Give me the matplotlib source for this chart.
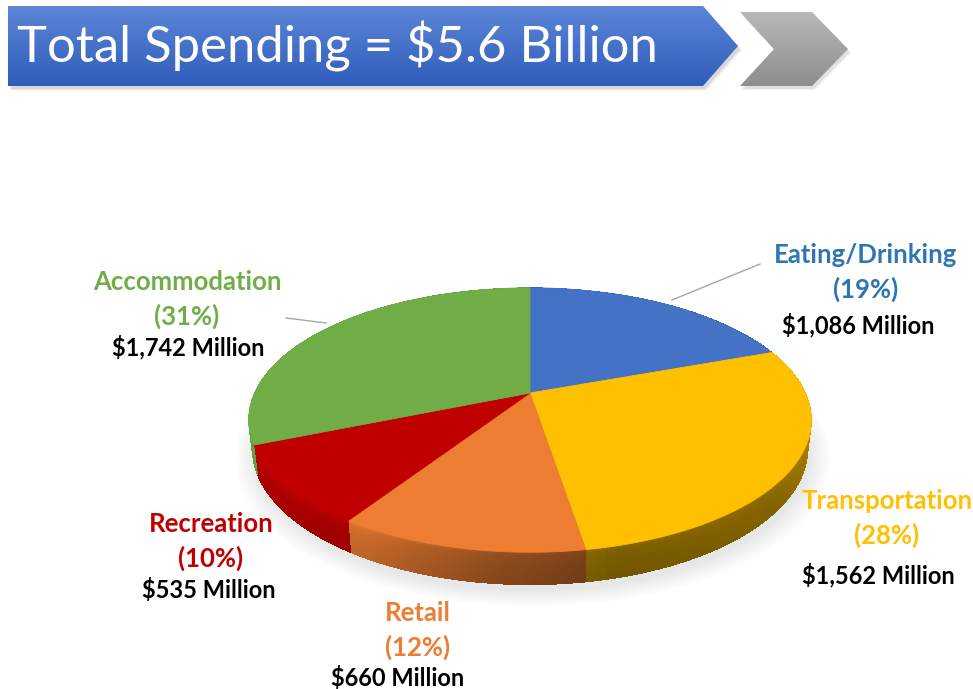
import numpy as np
import matplotlib
matplotlib.use("Agg")
import matplotlib.pyplot as plt
from matplotlib.patches import Polygon
from matplotlib.colors import to_rgb

# ---- data -------------------------------------------------------------
title = "Total Spending = $5.6 Billion"
categories = ["Eating/Drinking", "Transportation", "Retail", "Recreation", "Accommodation"]
spending_musd = [1086, 1562, 660, 535, 1742]
percent_labels = ["(19%)", "(28%)", "(12%)", "(10%)", "(31%)"]
amount_labels = ["$1,086 Million", "$1,562 Million", "$660 Million",
                 "$535 Million", "$1,742 Million"]
slice_colors = ["#4472C4", "#FFC000", "#ED7D31", "#C00000", "#70AD47"]
label_colors = ["#2E75B6", "#FFC000", "#ED7D31", "#C00000", "#70AD47"]

# ---- figure in pixel coordinates --------------------------------------
W, H = 973, 689
fig = plt.figure(figsize=(W / 100, H / 100), dpi=100)
ax = fig.add_axes([0, 0, 1, 1])
ax.set_xlim(0, W)
ax.set_ylim(H, 0)
ax.axis("off")

# ---- banner -----------------------------------------------------------
def gradient_patch(verts, top_color, bottom_color, y0, y1, z=2):
    poly = Polygon(verts, closed=True, facecolor="none", edgecolor="none", zorder=z)
    ax.add_patch(poly)
    t = np.linspace(0, 1, 256)[:, None]
    c0, c1 = np.array(to_rgb(top_color)), np.array(to_rgb(bottom_color))
    img = (c0 * (1 - t) + c1 * t)[:, None, :].repeat(2, axis=1)
    xs = [v[0] for v in verts]
    im = ax.imshow(img, extent=(min(xs), max(xs), y1, y0), aspect="auto",
                   zorder=z, interpolation="bilinear")
    im.set_clip_path(poly)

banner = [(8, 6), (703, 6), (738, 46), (703, 86), (8, 86)]
for k, a in enumerate([0.10, 0.07, 0.04]):
    sh = [(x + 2 + k, y + 3 + k) for x, y in banner]
    ax.add_patch(Polygon(sh, closed=True, facecolor="#404040", edgecolor="none",
                         alpha=a, zorder=1))
gradient_patch(banner, "#5D86D8", "#2F5DBB", 6, 86)

chevron = [(740, 12), (812, 12), (848, 49), (812, 86), (740, 86), (774, 49)]
for k, a in enumerate([0.10, 0.06]):
    sh = [(x + 2 + k, y + 3 + k) for x, y in chevron]
    ax.add_patch(Polygon(sh, closed=True, facecolor="#404040", edgecolor="none",
                         alpha=a, zorder=1))
gradient_patch(chevron, "#B8B8B8", "#8E8E8E", 12, 86)

ax.text(17, 46, title, color="white", fontsize=36.5, family="Lato",
        ha="left", va="center", zorder=5)

# ---- tilted pie geometry ----------------------------------------------
cx, cy = 530, 393
elev_s, elev_c = 0.46, 0.888
D = 4.34
f = 1195.0
thick = 0.115


def proj(a, h=0.0, r=1.0):
    x = r * np.sin(a)
    y = r * np.cos(a)
    up = y * elev_s + h * elev_c
    depth = D + y * elev_c - h * elev_s
    return cx + f * x / depth, cy - f * up / depth


values = np.array(spending_musd, dtype=float)
bounds = np.concatenate([[0], np.cumsum(values) / values.sum() * 2 * np.pi])

# side-wall brightness vs. angle (clockwise from the far side)
light_a = np.radians([0, 90, 130, 165, 185, 210, 240, 270, 360])
light_v = np.array([0.8, 0.76, 0.54, 0.48, 0.6, 0.86, 0.94, 0.98, 0.8])


def shade(color, k):
    c = np.array(to_rgb(color))
    if k <= 1:
        return tuple(c * k)
    return tuple(c + (1 - c) * (k - 1))

# soft shadow beneath the pie
for r in np.linspace(1.07, 1.0, 8):
    ang = np.linspace(0, 2 * np.pi, 200)
    px, py = proj(ang, -thick - 0.01, r)
    ax.add_patch(Polygon(np.column_stack([px + 3, py + 4]), closed=True,
                         facecolor="#808080", edgecolor="none", alpha=0.018, zorder=2))

# side walls: smooth vertical gradient, lighter at the rounded top rim
nb = 10
hs = np.linspace(0, 1, nb + 1)
band_mult = np.interp(0.5 * (hs[:-1] + hs[1:]), [0, 0.15, 0.4, 1], [1.1, 1.03, 0.98, 0.93])
for i in range(len(values)):
    seg = np.linspace(bounds[i], bounds[i + 1], 60)
    for a0, a1 in zip(seg[:-1], seg[1:]):
        am = 0.5 * (a0 + a1)
        base = np.interp(am, light_a, light_v)
        a1e = min(a1 + 0.004, bounds[i + 1])
        for j in range(nb):
            h0, h1 = hs[j], hs[j + 1] + 0.02
            p = [proj(a0, -thick * h0), proj(a1e, -thick * h0),
                 proj(a1e, -thick * min(h1, 1)), proj(a0, -thick * min(h1, 1))]
            col = shade(slice_colors[i], base * band_mult[j])
            ax.add_patch(Polygon(p, closed=True, facecolor=col, edgecolor="none",
                                 antialiased=False, zorder=3))

# top faces
for i in range(len(values)):
    arc = np.linspace(bounds[i], bounds[i + 1], 120)
    px, py = proj(arc)
    verts = np.vstack([[cx, cy], np.column_stack([px, py])])
    ax.add_patch(Polygon(verts, closed=True, facecolor=slice_colors[i],
                         edgecolor=slice_colors[i], linewidth=0.6, zorder=4))

# ---- labels -----------------------------------------------------------
label_pos = [(866, 255), (887, 501), (418, 613), (211, 524), (187, 282)]
amount_pos = [(858, 325), (878, 575), (398, 678), (209, 590), (188, 347)]
fs = 18.5
for i in range(len(values)):
    x, y = label_pos[i]
    ax.text(x, y, categories[i], color=label_colors[i], fontsize=fs,
            family="Lato", weight="bold", ha="center", va="center", zorder=6)
    ax.text(x, y + 34, percent_labels[i], color=label_colors[i], fontsize=fs,
            family="Lato", weight="bold", ha="center", va="center", zorder=6)
    ax.text(*amount_pos[i], amount_labels[i], color="black", fontsize=17,
            family="Lato", weight="bold", ha="center", va="center", zorder=6)

# leader lines
ax.plot([672, 760], [300, 264], color="#A6A6A6", lw=1, zorder=5)
ax.plot([286, 326], [318, 323], color="#A6A6A6", lw=1, zorder=5)

fig.savefig("out.png", dpi=100)
